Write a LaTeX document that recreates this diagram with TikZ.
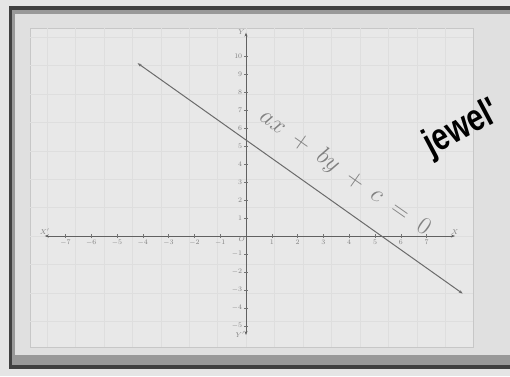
\documentclass[tikz,border=0pt]{standalone}
\usepackage{fontspec}
\newfontfamily\markfont[FakeStretch=0.78]{Liberation Sans}
\usetikzlibrary{arrows.meta, positioning, calc}

\begin{document}
\begin{tikzpicture}[x=1pt, y=1pt, >={Stealth[length=4pt,width=3pt]},
  every node/.style={font=\tiny, text=black!55},
  axisline/.style={draw=black!62, line width=1pt},
  ticklbl/.style={font=\fontsize{7.5}{7.5}\selectfont, text=black!50, inner sep=1pt}]
  \useasboundingbox (0,0) rectangle (510,376);
  % photo, frame and page
  \fill[black!10] (0,0) rectangle (510,376);
  \fill[black!75] (9,7) rectangle (515,370);
  \fill[black!40] (12,11) rectangle (515,366);
  \fill[black!12] (15,21) rectangle (515,362);
  \fill[black!9] (30,29) rectangle (473,348);
  \draw[black!22, line width=0.8pt] (30,29) rectangle (473,348);
  \begin{scope}[shift={(246,140)}, x=25.8pt, y=18pt]
    \draw[black!13, very thin] (-8.37,-6.16) grid (8.79,11.55);
    % axes
    \coordinate (xl) at (-7.8,0); \coordinate (xr) at (8.1,0);
    \coordinate (yb) at (0,-5.5); \coordinate (yt) at (0,11.3);
    \draw[axisline, <->] (xl) -- (xr);
    \draw[axisline, <->] (yb) -- (yt);
    \foreach \i in {-7,...,-1,1,2,...,7} {
      \draw[black!55] (\i,-0.12) -- (\i,0.12);
      \node[ticklbl, below] (tx\i) at (\i,-0.15) {$\i$};
    }
    \foreach \j in {-5,...,-1,1,2,...,10} {
      \draw[black!55] (-0.08,\j) -- (0.08,\j);
      \node[ticklbl, left] (ty\j) at (-0.1,\j) {$\j$};
    }
    \node[ticklbl, below left] (o) at (0,0) {$O$};
    \node[ticklbl, above] (xlbl) at (xl) {$X'$};
    \node[ticklbl, above] (xrlbl) at (xr) {$X$};
    \node[ticklbl, left] (ylbl) at (yt) {$Y$};
    \node[ticklbl, left] (yblbl) at (yb) {$Y'$};
    % the line
    \coordinate (p) at (-4.2,9.6); \coordinate (q) at (8.4,-3.2);
    \draw[black!58, line width=1pt, <->] (p) -- (q);
  \end{scope}
  \node[rotate=-35, font=\fontsize{28}{28}\selectfont, text=black!50] (eq) at (345,203) {$ax \;+\; by \;+\; c \;=\; 0$};
  \node[rotate=28, font=\markfont\bfseries\fontsize{38}{38}\selectfont, text=black] (mark) at (462,247) {jewel'};
\end{tikzpicture}
\end{document}
